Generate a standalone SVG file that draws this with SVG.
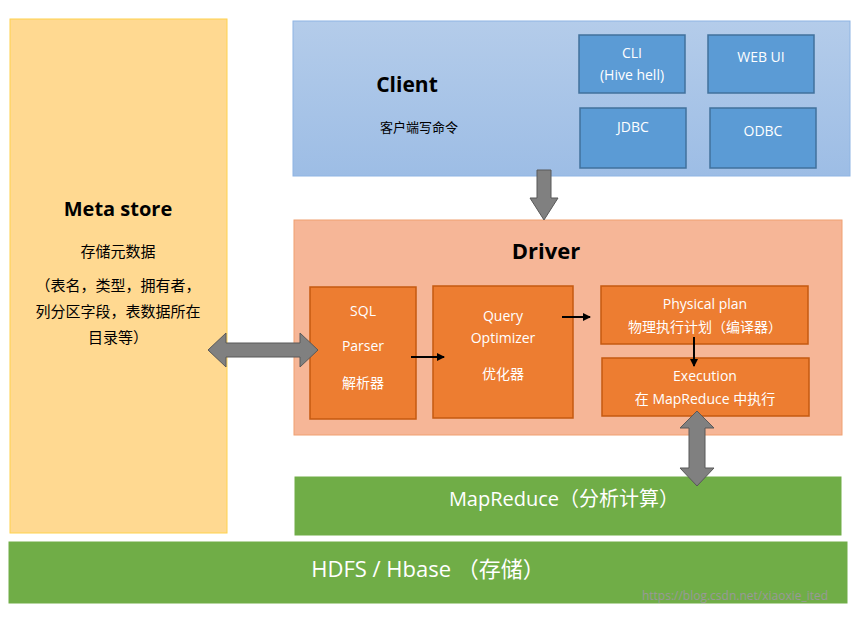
<svg xmlns="http://www.w3.org/2000/svg" width="862" height="617" viewBox="0 0 862 617">
<style>
text{font-family:"Open Sans","Noto Sans CJK SC",sans-serif;text-anchor:middle}
.sub{fill:#5B9BD5;stroke:#41719C;stroke-width:1.5}
.or{fill:#ED7D31;stroke:#C55A11;stroke-width:1.5}
.w{fill:#fff;font-size:14px}
.g{fill:#70AD47;stroke:#fff}
.ga{fill:#808080;stroke:#595959;stroke-width:1}
</style>
<defs>
<marker id="ah" markerWidth="8" markerHeight="8" refX="7" refY="4" orient="auto" markerUnits="userSpaceOnUse"><path d="M0,0 L8,4 L0,8z" fill="#000"/></marker>
<linearGradient id="cg" x1="0" y1="0" x2="0" y2="1"><stop offset="0" stop-color="#B4CCEA"/><stop offset="1" stop-color="#9DBDE5"/></linearGradient>
</defs>
<rect width="862" height="617" fill="#fff"/>
<g id="metastore">
<rect x="10" y="19" width="217" height="514" fill="#FFD991" stroke="#FFD24D"/>
<text x="118" y="216" font-size="20" font-weight="bold">Meta store</text>
<text x="118" y="257" font-size="15">存储元数据</text>
<text x="118" y="291" font-size="15">（表名，类型，拥有者，</text>
<text x="118" y="317" font-size="15">列分区字段，表数据所在</text>
<text x="118" y="343" font-size="15">目录等）</text>
</g>
<g id="client">
<rect x="293" y="21" width="557" height="155" fill="url(#cg)" stroke="#8EB4E3"/>
<text x="407" y="92" font-size="21" font-weight="bold">Client</text>
<text x="419" y="132" font-size="13">客户端写命令</text>
</g>
<g id="cli"><rect class="sub" x="579" y="35" width="106" height="58"/><text class="w" x="632" y="58">CLI</text><text class="w" x="632" y="80">(Hive hell)</text></g>
<g id="webui"><rect class="sub" x="708" y="35" width="106" height="58"/><text class="w" x="761" y="62">WEB UI</text></g>
<g id="jdbc"><rect class="sub" x="580" y="108" width="106" height="60"/><text class="w" x="633" y="132">JDBC</text></g>
<g id="odbc"><rect class="sub" x="710" y="108" width="106" height="60"/><text class="w" x="763" y="136">ODBC</text></g>
<g id="driver">
<rect x="294" y="220" width="548" height="215" fill="#F6B697" stroke="#F0A070"/>
<text x="546" y="259" font-size="22" font-weight="bold">Driver</text>
</g>
<g id="sqlparser"><rect class="or" x="310" y="287" width="106" height="132"/><text class="w" x="363" y="316">SQL</text><text class="w" x="363" y="351">Parser</text><text class="w" x="363" y="388">解析器</text></g>
<g id="optimizer"><rect class="or" x="433" y="286" width="140" height="132"/><text class="w" x="503" y="321">Query</text><text class="w" x="503" y="343">Optimizer</text><text class="w" x="503" y="379">优化器</text></g>
<g id="physical"><rect class="or" x="601" y="286" width="207" height="58"/><text class="w" x="705" y="309">Physical plan</text><text class="w" x="705" y="332">物理执行计划（编译器）</text></g>
<g id="execution"><rect class="or" x="602" y="358" width="207" height="58"/><text class="w" x="705" y="381">Execution</text><text class="w" x="705" y="404">在 MapReduce 中执行</text></g>
<g id="mapreduce"><rect class="g" x="294" y="476" width="548" height="60"/><text x="564" y="506" font-size="20" fill="#fff">MapReduce（分析计算）</text></g>
<g id="hdfs"><rect class="g" x="8" y="541" width="840" height="63"/><text x="428" y="577" font-size="22" fill="#fff">HDFS / Hbase （存储）</text></g>
<g id="connectors">
<path class="ga" d="M537,170 H551 V198 H558 L544,220 L530,198 H537Z"/>
<path class="ga" d="M208,350 L226,333 V343 H300 V333 L318,350 L300,367 V357 H226 V367Z"/>
<path class="ga" d="M697,411 L714,428 H705 V468 H714 L697,486 L680,468 H689 V428 H680Z"/>
<line x1="411" y1="357" x2="444" y2="357" stroke="#000" stroke-width="2" marker-end="url(#ah)"/>
<line x1="562" y1="317" x2="590" y2="317" stroke="#000" stroke-width="2" marker-end="url(#ah)"/>
<line x1="694" y1="337" x2="694" y2="366" stroke="#000" stroke-width="2" marker-end="url(#ah)"/>
</g>
<text x="735" y="600" font-size="12" fill="#999" style="text-anchor:middle">https://blog.csdn.net/xiaoxie_ited</text>
</svg>
